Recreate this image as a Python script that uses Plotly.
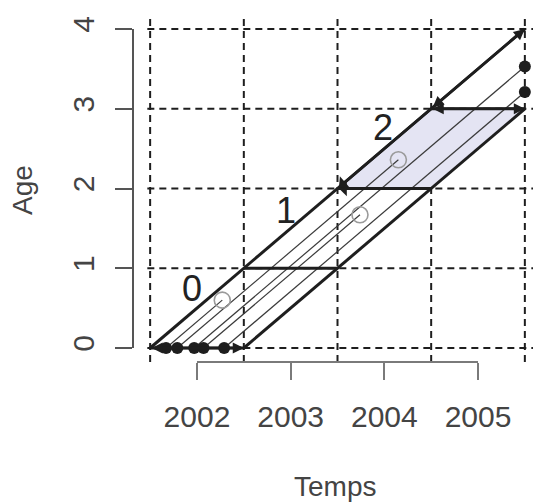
import plotly.graph_objects as go

# Lexis diagram: one birth cohort followed from birth to the end of observation
years = [2002, 2003, 2004, 2005]
year_labels = ["2002", "2003", "2004", "2005"]
ages = [0, 1, 2, 3, 4]
age_labels = ["0", "1", "2", "3", "4"]

grid_times = [2001.5, 2002.5, 2003.5, 2004.5, 2005.5]
cohort_start = 2001.5
cohort_end = 2002.5
obs_end = 2005.5
shaded_age = 2

# individual life lines
births = [2001.67, 2001.79, 2001.97, 2002.07, 2002.29]
end_ages = [0.60, 2.36, 3.53, 1.67, 3.21]
end_kind = ["death", "death", "observed", "death", "observed"]

# age labels written inside the cohort band
band_text = ["0", "1", "2"]
band_time = [2001.95, 2002.95, 2003.99]
band_age = [0.75, 1.73, 2.76]

INK = "#1e1e1e"
FONT = "Liberation Sans, Arial, sans-serif"

W, H = 533, 504
ML, MR, MT, MB = 133, 0, 15, 142
x_range = [2001.317, 2005.587]
y_range = [-0.1755, 4.1755]

fig = go.Figure()

# shaded parallelogram for the chosen age
a = shaded_age
fig.add_trace(go.Scatter(
    x=[cohort_start + a, cohort_end + a, cohort_end + a + 1, cohort_start + a + 1, cohort_start + a],
    y=[a, a, a + 1, a + 1, a],
    mode="lines", fill="toself", fillcolor="#e4e4f3",
    line=dict(width=0), hoverinfo="skip", showlegend=False))

# life lines
for b, e in zip(births, end_ages):
    fig.add_trace(go.Scatter(
        x=[b, b + e], y=[0, e], mode="lines",
        line=dict(color="#3a3a3a", width=1.2),
        hoverinfo="skip", showlegend=False))

# cohort boundaries (diagonals)
fig.add_trace(go.Scatter(
    x=[cohort_start, obs_end], y=[0, obs_end - cohort_start], mode="lines",
    line=dict(color=INK, width=3), hoverinfo="skip", showlegend=False))
fig.add_trace(go.Scatter(
    x=[cohort_end, obs_end], y=[0, obs_end - cohort_end], mode="lines",
    line=dict(color=INK, width=3), hoverinfo="skip", showlegend=False))

# age-anniversary segments of the cohort
for k in range(4):
    fig.add_trace(go.Scatter(
        x=[cohort_start + k, cohort_end + k], y=[k, k], mode="lines",
        line=dict(color=INK, width=3), hoverinfo="skip", showlegend=False))

# births
fig.add_trace(go.Scatter(
    x=births, y=[0] * len(births), mode="markers",
    marker=dict(color=INK, size=12), hoverinfo="skip", showlegend=False))

# deaths (open circles) and survivors at the end of observation (dots)
dx = [b + e for b, e, k in zip(births, end_ages, end_kind) if k == "death"]
dy = [e for e, k in zip(end_ages, end_kind) if k == "death"]
ox = [b + e for b, e, k in zip(births, end_ages, end_kind) if k == "observed"]
oy = [e for e, k in zip(end_ages, end_kind) if k == "observed"]
fig.add_trace(go.Scatter(
    x=dx, y=dy, mode="markers",
    marker=dict(symbol="circle-open", color="#9a9a9a", size=16, line=dict(width=1.6)),
    hoverinfo="skip", showlegend=False))
fig.add_trace(go.Scatter(
    x=ox, y=oy, mode="markers",
    marker=dict(color=INK, size=12), hoverinfo="skip", showlegend=False))

shapes = []
# dashed reference grid
for t in grid_times:
    shapes.append(dict(type="line", xref="x", yref="paper", x0=t, x1=t, y0=0, y1=1,
                       line=dict(color=INK, width=2, dash="7px,5px"), layer="below"))
for g in ages:
    shapes.append(dict(type="line", xref="x", yref="y", x0=grid_times[0] - 0.03, x1=x_range[1], y0=g, y1=g,
                       line=dict(color=INK, width=2, dash="7px,5px"), layer="below"))
# axis lines spanning only the tick range
shapes.append(dict(type="line", xref="x", yref="paper", x0=years[0], x1=years[-1], y0=0, y1=0,
                   line=dict(color="#7a7a7a", width=2)))
shapes.append(dict(type="line", xref="paper", yref="y", x0=0, x1=0, y0=ages[0], y1=ages[-1],
                   line=dict(color="#555555", width=2)))

annotations = []
# arrow heads on the cohort segments
arrow_common = dict(xref="x", yref="y", axref="x", ayref="y", text="", showarrow=True,
                    arrowhead=2, arrowsize=0.85, arrowwidth=2.6, arrowcolor=INK)
annotations.append(dict(x=cohort_end, y=0, ax=cohort_start, ay=0, arrowside="end+start", **arrow_common))
annotations.append(dict(x=cohort_end + 2, y=2, ax=cohort_start + 2, ay=2, arrowside="start", **arrow_common))
annotations.append(dict(x=cohort_end + 3, y=3, ax=cohort_start + 3, ay=3, arrowside="end+start", **arrow_common))
annotations.append(dict(x=obs_end, y=4, ax=cohort_start + 3, ay=3, arrowside="end+start", **arrow_common))
annotations.append(dict(x=cohort_start + 3, y=3, ax=cohort_start + 2, ay=2, arrowside="start", **arrow_common))

for s, t, g in zip(band_text, band_time, band_age):
    annotations.append(dict(x=t, y=g, xref="x", yref="y", text=s, showarrow=False,
                            font=dict(family=FONT, size=36, color="#222222"),
                            xanchor="center", yanchor="middle"))

annotations.append(dict(x=(335 - ML) / (W - ML - MR), y=(H - MB - 486) / (H - MT - MB),
                        xref="paper", yref="paper", text="Temps", showarrow=False,
                        font=dict(family=FONT, size=28, color="#444444"),
                        xanchor="center", yanchor="middle", borderpad=0))
annotations.append(dict(x=(22 - ML) / (W - ML - MR), y=(H - MB - 190) / (H - MT - MB),
                        xref="paper", yref="paper", text="Age", showarrow=False, textangle=-90,
                        font=dict(family=FONT, size=28, color="#444444"),
                        xanchor="center", yanchor="middle"))

fig.update_layout(
    width=W, height=H,
    margin=dict(l=ML, r=MR, t=MT, b=MB, pad=0),
    paper_bgcolor="white", plot_bgcolor="white",
    shapes=shapes, annotations=annotations,
    xaxis=dict(range=x_range, tickvals=years, ticktext=year_labels,
               ticks="outside", ticklen=17, tickwidth=2, tickcolor="#7a7a7a",
               showline=False, showgrid=False, zeroline=False, ticklabelstandoff=11,
               tickfont=dict(family=FONT, size=30, color="#444444")),
    yaxis=dict(range=y_range, tickvals=ages, ticktext=age_labels,
               ticks="outside", ticklen=17, tickwidth=2, tickcolor="#555555", tickangle=-90,
               showline=False, showgrid=False, zeroline=False, ticklabelstandoff=9,
               tickfont=dict(family=FONT, size=30, color="#444444")),
)

fig.write_html("out.html")
